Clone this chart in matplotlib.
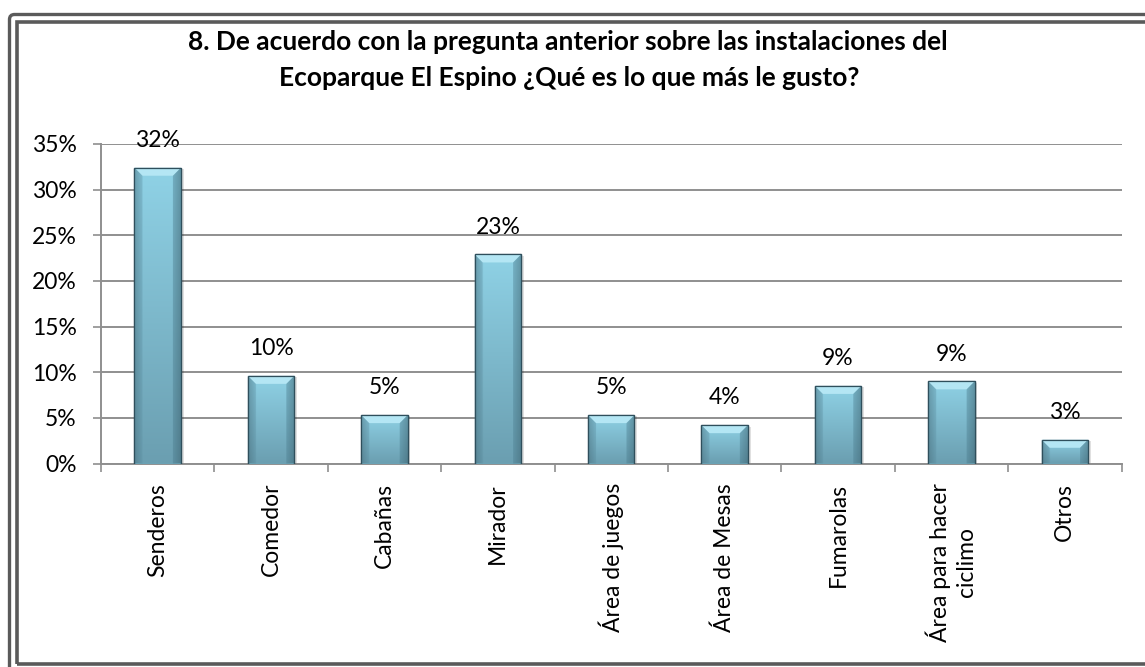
import matplotlib
matplotlib.use("Agg")
import matplotlib.pyplot as plt
import numpy as np
from matplotlib.patches import FancyBboxPatch, Polygon, Rectangle
from matplotlib.colors import to_rgb

categories = ["Senderos", "Comedor", "Cabañas", "Mirador", "Área de juegos",
              "Área de Mesas", "Fumarolas", "Área para hacer\nciclimo", "Otros"]
values = [32.4, 9.6, 5.3, 22.9, 5.3, 4.2, 8.5, 9.0, 2.6]
value_labels = ["32%", "10%", "5%", "23%", "5%", "4%", "9%", "9%", "3%"]
yticks = [0, 5, 10, 15, 20, 25, 30, 35]
ytick_labels = ["0%", "5%", "10%", "15%", "20%", "25%", "30%", "35%"]
title_lines = ["8. De acuerdo con la pregunta anterior sobre las instalaciones del",
               "Ecoparque El Espino ¿Qué es lo que más le gusto?"]

FONT = ["Lato", "DejaVu Sans"]
plt.rcParams['font.family'] = FONT
FS = 16.5

W, H, DPI = 1145, 667, 100
fig = plt.figure(figsize=(W / DPI, H / DPI), dpi=DPI)
fig.patch.set_facecolor("white")

# axes placement (pixels from reference)
ax_l, ax_r, ax_t, ax_b = 101, 1121.5, 144, 463.5
ax = fig.add_axes([ax_l / W, 1 - ax_b / H, (ax_r - ax_l) / W, (ax_b - ax_t) / H])
n = len(categories)
x = np.arange(n)
bar_w = 0.41
bars = ax.bar(x, values, width=bar_w, color="#7dbdd1", edgecolor="#2f4f5c",
              linewidth=0.9, zorder=3)

ax.set_xlim(-0.5, n - 0.5)
ax.set_ylim(0, 35)

# pixel -> data conversions
px_per_x = (ax_r - ax_l) / n
px_per_y = (ax_b - ax_t) / 35.0
bev_px = 8
bx = bev_px / px_per_x
by = bev_px / px_per_y

# gradient for bar body
ny, nx = 64, 64
yy = np.linspace(0, 1, ny)[:, None]   # 0 top -> 1 bottom
xx = np.linspace(0, 1, nx)[None, :]
top_c = np.array(to_rgb("#8fd2e6"))
bot_c = np.array(to_rgb("#6b9fb1"))
base = top_c[None, None, :] * (1 - yy[..., None]) + bot_c[None, None, :] * yy[..., None]
edge = np.clip(1 - np.minimum(xx, 1 - xx) / 0.18, 0, 1)  # 1 at edges
shade = 1 - 0.22 * edge[..., None]
img = np.clip(base * shade, 0, 1)

for p in bars:
    x0, y0 = p.get_x(), p.get_y()
    w, h = p.get_width(), p.get_height()
    # shadow
    ax.add_patch(Rectangle((x0 + 0.012, y0), w + 0.012, h - 0.15, facecolor="#000000",
                           alpha=0.12, edgecolor="none", zorder=2))
    im = ax.imshow(img, extent=[x0, x0 + w, y0, y0 + h], aspect="auto",
                   zorder=3.2, interpolation="bilinear")
    im.set_clip_path(p)
    # top bevel
    tb = min(by, h * 0.45)
    ax.add_patch(Polygon([[x0, y0 + h], [x0 + w, y0 + h], [x0 + w - bx, y0 + h - tb],
                          [x0 + bx, y0 + h - tb]], closed=True, facecolor="#b4e6f4",
                         edgecolor="none", zorder=3.3))
    ax.add_patch(Polygon([[x0, y0 + h], [x0 + bx, y0 + h - tb], [x0 + bx, y0],
                          [x0, y0]], closed=True, facecolor="#5f93a6", alpha=0.35,
                         edgecolor="none", zorder=3.3))
    ax.add_patch(Polygon([[x0 + w, y0 + h], [x0 + w - bx, y0 + h - tb], [x0 + w - bx, y0],
                          [x0 + w, y0]], closed=True, facecolor="#4d7f91", alpha=0.4,
                         edgecolor="none", zorder=3.3))
    ax.add_patch(Rectangle((x0, y0), w, h, facecolor="none", edgecolor="#2f4f5c",
                           linewidth=0.9, zorder=3.5))

ax.set_xlim(-0.5, n - 0.5)
ax.set_ylim(0, 35)

for xi, v, lab in zip(x, values, value_labels):
    ax.annotate(lab, (xi, v), xytext=(0, 12), textcoords="offset points",
                ha="center", va="bottom", fontsize=FS, color="black", zorder=5)

ax.set_yticks(yticks)
ax.set_yticklabels(ytick_labels, fontsize=FS)
ax.yaxis.grid(True, color="#8f8f8f", linewidth=1.4, zorder=0)
ax.set_axisbelow(True)
ax.tick_params(axis="y", length=6, width=1.2, color="#8f8f8f", pad=11.5)

ax.set_xticks(x)
ax.set_xticklabels(categories, rotation=90, fontsize=FS, ha="center", va="top",
                   multialignment="center", linespacing=1.3)
ax.set_xticks(np.arange(-0.5, n, 1.0), minor=True)
ax.tick_params(axis="x", which="major", length=0, pad=14)
ax.tick_params(axis="x", which="minor", length=6, width=1.2, color="#8f8f8f")

for s in ["top", "right"]:
    ax.spines[s].set_visible(False)
for s in ["left", "bottom"]:
    ax.spines[s].set_color("#8f8f8f")
    ax.spines[s].set_linewidth(1.4)

# title
fig.text(568 / W, 1 - 50 / H, title_lines[0], ha="center", va="baseline",
         fontsize=19, fontweight="bold")
fig.text(569 / W, 1 - 86 / H, title_lines[1], ha="center", va="baseline",
         fontsize=19, fontweight="bold")

# frame (pixel coordinates)
outer = FancyBboxPatch((9.5, -40), 1300, H - 14.5 + 40,
                       boxstyle="round,pad=0,rounding_size=5", transform=None,
                       facecolor="none", edgecolor="#5a5a5a", linewidth=2.4)
inner = Rectangle((16.5, 3.5), 1300, H - 22 - 3.5, transform=None,
                  facecolor="none", edgecolor="#5a5a5a", linewidth=2.6)
fig.patches.extend([outer, inner])

fig.savefig("out.png", dpi=DPI)
